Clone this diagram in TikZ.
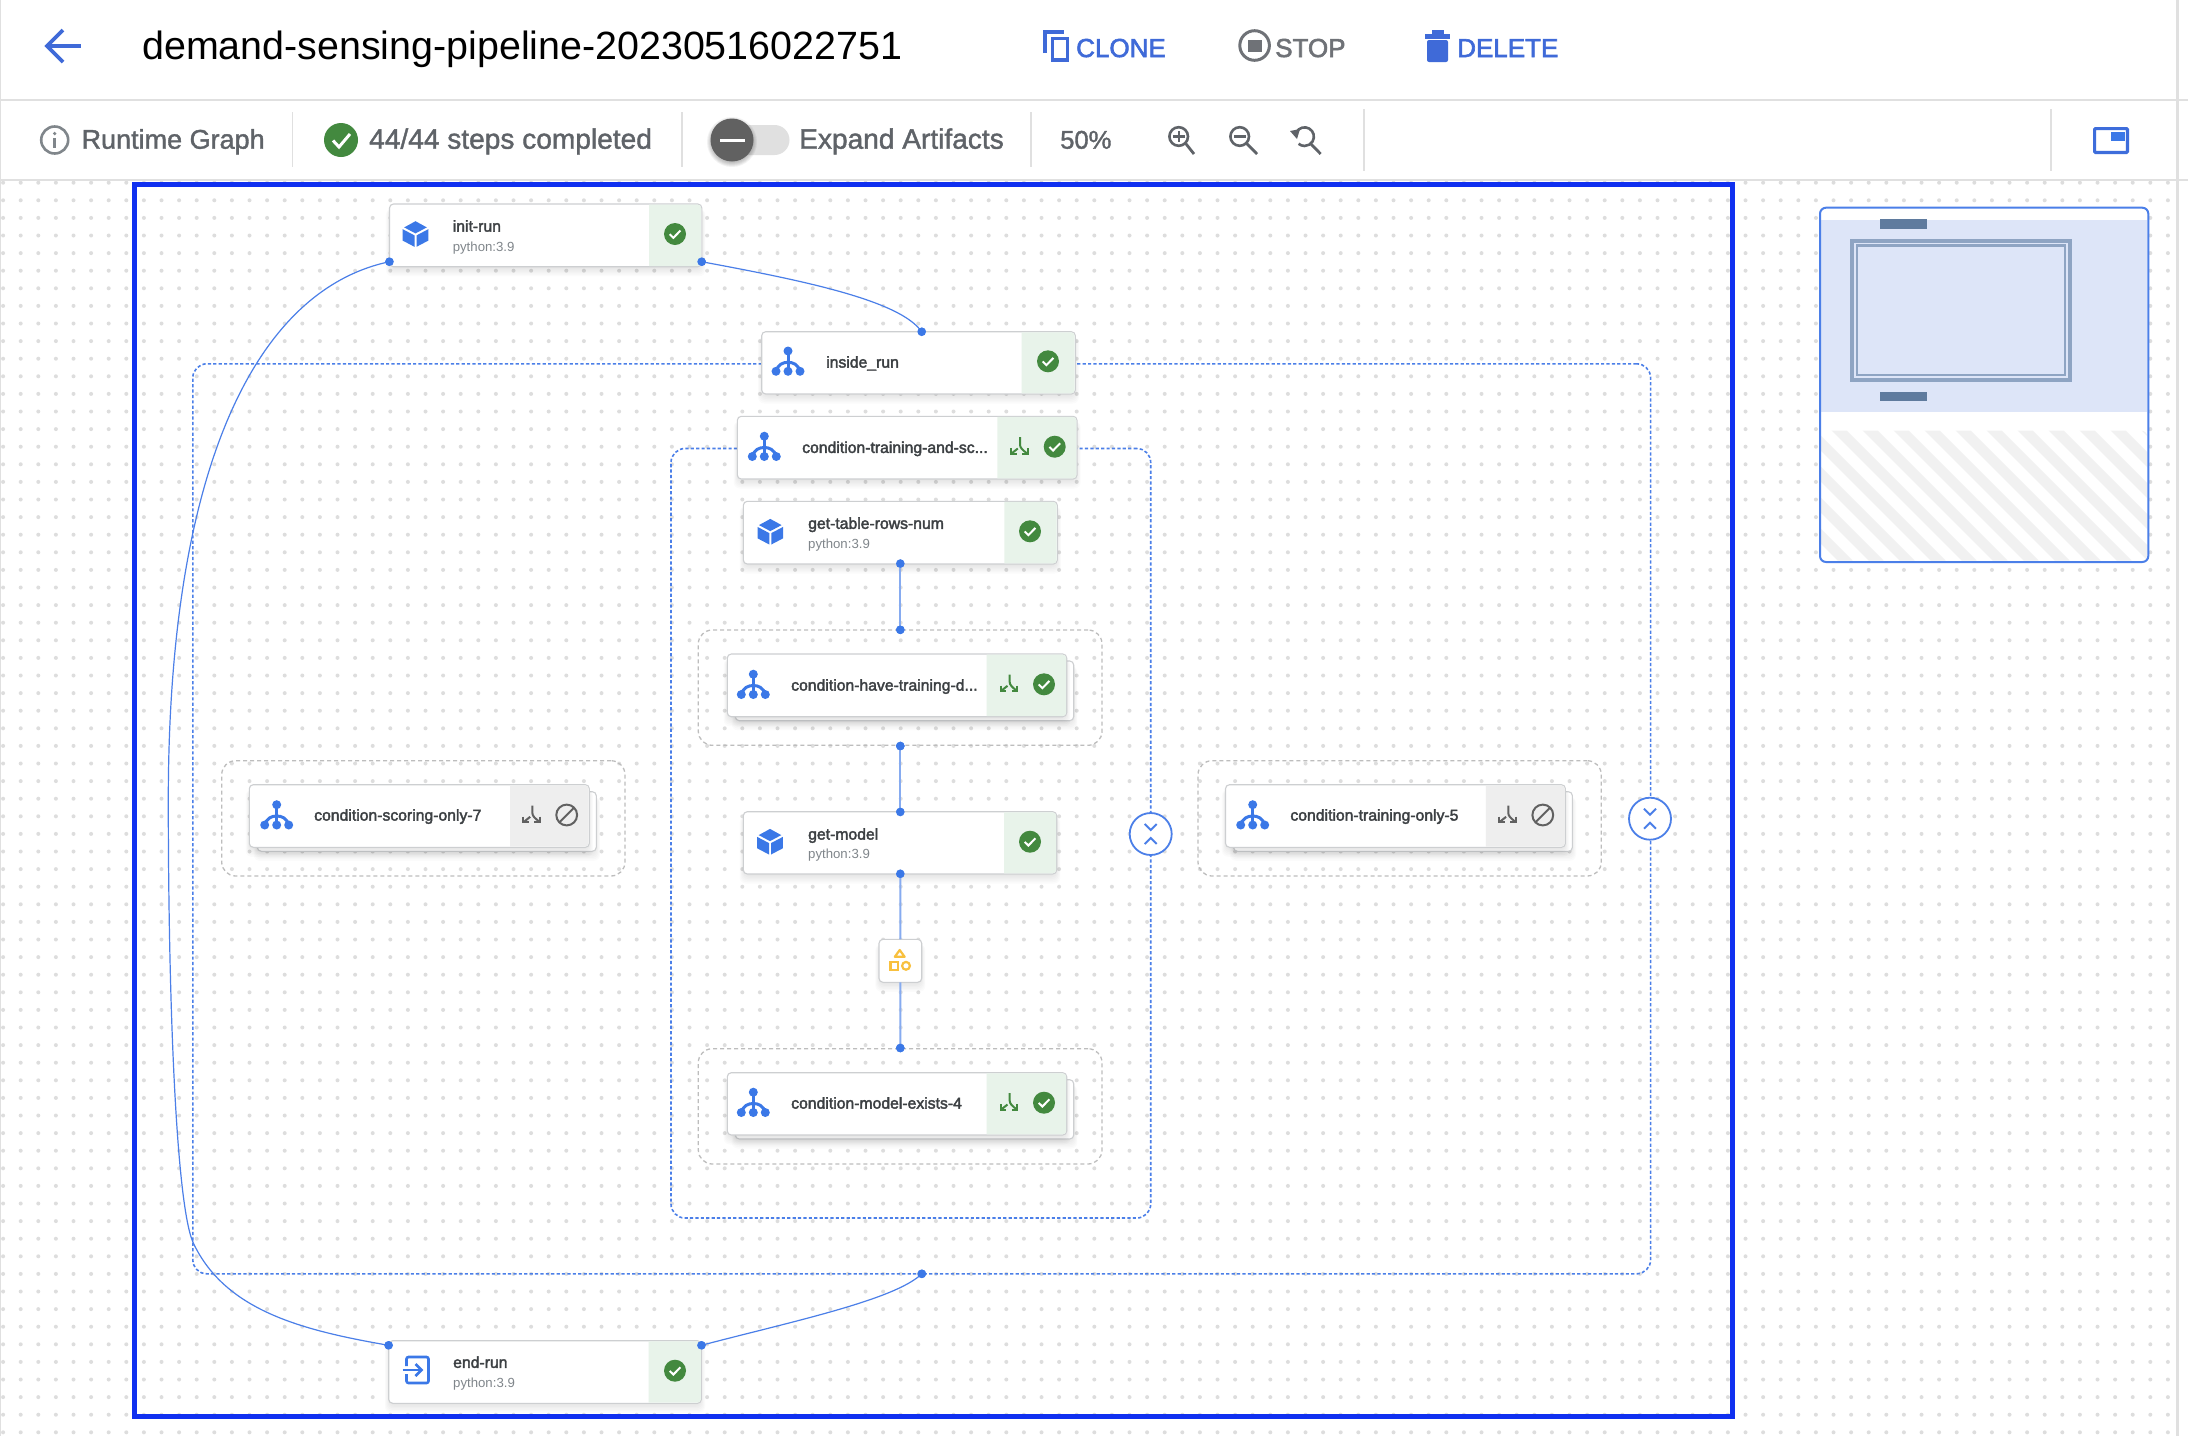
\documentclass[tikz,border=0pt]{standalone}
\usepackage{fontspec}
\setmainfont{Liberation Sans}
\newfontfamily\medfont[FakeBold=2.4]{Liberation Sans}
\newfontfamily\barfont[FakeBold=1.4]{Liberation Sans}
\definecolor{kfblue}{HTML}{3F6AD8}
\definecolor{iconblue}{HTML}{3B78E7}
\definecolor{flowblue}{HTML}{4B7FE8}
\definecolor{lineblue}{HTML}{86ABF0}
\definecolor{framec}{HTML}{1030F0}
\definecolor{dotc}{HTML}{DDDDDD}
\definecolor{rulec}{HTML}{E0E0E0}
\definecolor{okgreen}{HTML}{43893F}
\definecolor{okfill}{HTML}{E8F3EA}
\definecolor{skipfill}{HTML}{EEEEEE}
\definecolor{skipgray}{HTML}{616161}
\definecolor{txtdark}{HTML}{3C4043}
\definecolor{txtgray}{HTML}{5F6368}
\definecolor{txtsub}{HTML}{80868B}
\definecolor{cardedge}{HTML}{CDCFD1}
\definecolor{groupgray}{HTML}{BDBDBD}
\definecolor{yellowc}{HTML}{F8C03E}
\definecolor{minifill}{HTML}{DDE5F8}
\definecolor{minibar}{HTML}{5F7B9E}
\definecolor{miniframe}{HTML}{8EA4C3}
\definecolor{ministripe}{HTML}{F1F1F1}
\tikzset{
  cardbox/.style={draw=cardedge,line width=1.1pt,fill=white,rounded corners=4pt,inner sep=0pt,outer sep=0pt},
  bluegroup/.style={draw=flowblue,line width=1.6pt,dash pattern=on 3.2pt off 2.2pt,rounded corners=14pt,inner sep=0pt,outer sep=0pt},
  graygroup/.style={draw=groupgray,line width=1.3pt,dash pattern=on 4pt off 3pt,rounded corners=14pt,inner sep=0pt,outer sep=0pt},
  portdot/.style={circle,fill=iconblue,draw=none,minimum size=8.6pt,inner sep=0pt,outer sep=0pt},
  curveline/.style={draw=flowblue,line width=1.2pt},
  vertline/.style={draw=lineblue,line width=2pt},
  cardtitle/.style={anchor=base west,inner sep=0pt,yshift=.7pt,text=txtdark,font=\medfont\fontsize{15.75}{18}\selectfont},
  cardsub/.style={anchor=base west,inner sep=0pt,text=txtsub,font=\fontsize{13.2}{15}\selectfont},
  barlabel/.style={anchor=base west,inner sep=0pt,text=txtgray,font=\barfont\fontsize{27}{30}\selectfont},
  barwide/.style={barlabel,font=\barfont\fontsize{28.1}{30}\selectfont},
  actlabel/.style={anchor=base west,inner sep=0pt,yshift=1pt,font=\medfont\fontsize{26}{30}\selectfont},
  sepline/.style={draw=rulec,line width=1.5pt},
  dotrow/.style={draw=dotc,line width=4pt,line cap=round,dash pattern=on 0pt off 17.6pt},
}
% box helper: style, name, x0, y0, x1, y1
\newcommand{\kfbox}[6]{%
  \pgfmathsetmacro{\kfw}{(#5)-(#3)}\pgfmathsetmacro{\kfh}{(#6)-(#4)}%
  \node[#1,minimum width=\kfw pt,minimum height=\kfh pt] (#2) at ({((#3)+(#5))/2},{((#4)+(#6))/2}) {};}
% soft shadow: x0,y0,x1,y1
\newcommand{\kfshadow}[4]{%
  \foreach \k in {0,...,7}{\fill[black,opacity=.016,rounded corners=6pt] (#1-\k*.8+2,#2+5) rectangle (#3+\k*.8-2,#4-1+\k*1.5);}}
% card: name,x0,y0,x1,y1,tintx,tint
\newcommand{\kfcard}[7]{%
  \kfshadow{#2}{#3}{#4}{#5}%
  \kfbox{cardbox}{#1}{#2}{#3}{#4}{#5}%
  \fill[#7] (#6,#3+.6) [rounded corners=3.5pt] -- (#4-.6,#3+.6) -- (#4-.6,#5-.6) [sharp corners] -- (#6,#5-.6) -- cycle;}
% card with a second sheet behind
\newcommand{\kfstack}[7]{%
  \kfshadow{#2+8}{#3+7}{#4+7}{#5+4}%
  \kfbox{cardbox}{#1-back}{#2+8}{#3+7}{#4+7}{#5+4}%
  \kfcard{#1}{#2}{#3}{#4}{#5}{#6}{#7}}
\newcommand{\icoTree}[2]{\begin{scope}[shift={(#1,#2)}]
  \fill[iconblue] (0,-10.3) circle (4.5) (-12,10) circle (4.5) (0,10) circle (4.5) (12,10) circle (4.5);
  \draw[iconblue,line width=3pt] (0,-10) -- (0,10);
  \draw[iconblue,line width=3pt] (-12,10) .. controls (-10,3) and (-5,1) .. (0,1) .. controls (5,1) and (10,3) .. (12,10);
\end{scope}}
\newcommand{\icoCube}[2]{\begin{scope}[shift={(#1,#2)}]
  \fill[iconblue] (0,-12.8) -- (11.3,-6.6) -- (0,-.6) -- (-11.3,-6.6) -- cycle;
  \fill[iconblue] (-12.8,-4.8) -- (-1,1.4) -- (-1,12.8) -- (-12.8,6.6) -- cycle;
  \fill[iconblue] (12.8,-4.8) -- (1,1.4) -- (1,12.8) -- (12.8,6.6) -- cycle;
\end{scope}}
\newcommand{\icoOk}[3][11]{\begin{scope}[shift={(#2,#3)}]
  \fill[okgreen] (0,0) circle (#1);
  \draw[white,line width=2pt] (-5.3,.2) -- (-1.6,3.8) -- (5.4,-3.4);
\end{scope}}
\newcommand{\icoFork}[3]{\begin{scope}[shift={(#1,#2)}]
  \draw[#3,line width=2pt] (.7,-9.5) -- (.7,-2) .. controls (.7,1) and (3,3) .. (8,7);
  \draw[#3,line width=2pt] (8.3,1.5) -- (8.3,7.3) -- (2.6,7.3);
  \draw[#3,line width=2pt] (-1.5,1.8) -- (-8,7);
  \draw[#3,line width=2pt] (-8.3,1.5) -- (-8.3,7.3) -- (-2.6,7.3);
\end{scope}}
\newcommand{\icoSkip}[2]{\begin{scope}[shift={(#1,#2)}]
  \draw[skipgray,line width=2pt] (0,0) circle (10.4);
  \draw[skipgray,line width=2pt] (-7.2,7.2) -- (7.2,-7.2);
\end{scope}}
\newcommand{\icoChev}[2]{\begin{scope}[shift={(#1,#2)}]
  \draw[flowblue,line width=2pt] (-6,-10) -- (0,-4) -- (6,-10);
  \draw[flowblue,line width=2pt] (-6,10) -- (0,4) -- (6,10);
\end{scope}}
\newcommand{\icoLens}[3]{\draw[txtgray,line width=2.6pt] (#1,#2) circle (9.3);
  \draw[txtgray,line width=2.8pt] (#1+7,#2+7) -- (#3,154);}
\begin{document}
\begin{tikzpicture}[x=1pt,y=-1pt]
\useasboundingbox (0,0) rectangle (2188,1436);
\fill[white] (0,0) rectangle (2188,1436);
% dotted canvas
\foreach \j in {10,...,81}{\draw[dotrow] (3.1,{6.7+17.6*\j}) -- (2170,{6.7+17.6*\j});}
% header rules
\draw[rulec,line width=2pt] (0,99.7) -- (2188,99.7);
\draw[rulec,line width=2pt] (0,180) -- (2188,180);
\draw[rulec,line width=1pt] (.5,0) -- (.5,1436);
\draw[rulec,line width=3pt] (2177,0) -- (2177,1436);
% header
\draw[kfblue,line width=3.8pt] (80.5,46) -- (48,46);
\draw[kfblue,line width=3.8pt] (63,30) -- (47,46) -- (63,62);
\node[anchor=base west,inner sep=0pt,text=black,font=\fontsize{39.4}{42}\selectfont] (title) at (142,59.3) {demand-sensing-pipeline-20230516022751};
\draw[kfblue,line width=3.4pt] (1052.5,38.5) rectangle (1067.5,60);
\draw[kfblue,line width=3.4pt] (1045,53) -- (1045,32) -- (1064,32);
\node[actlabel,text=kfblue] (clone) at (1076,58) {CLONE};
\draw[txtgray!90,line width=3pt] (1254.6,45.5) circle (14.8);
\fill[txtgray!90] (1248,40) rectangle (1262.4,52.3);
\node[actlabel,text=txtgray!90] (stop) at (1275,58) {STOP};
\fill[kfblue] (1425,34) rectangle (1450,38.5);
\fill[kfblue] (1432,30) rectangle (1444,34);
\fill[kfblue,rounded corners=2pt] (1427,40) -- (1448,40) -- (1448,62) -- (1427,62) -- cycle;
\node[actlabel,text=kfblue] (delete) at (1457,58) {DELETE};
% toolbar
\draw[txtsub,line width=2.6pt] (54.7,140) circle (13.5);
\fill[txtsub] (54.7,133.5) circle (1.8);
\draw[txtsub,line width=2.8pt] (54.7,138) -- (54.7,148);
\node[barlabel] (runtime) at (81.4,148.7) {Runtime Graph};
\draw[sepline] (292.6,112) -- (292.6,167);
\fill[okgreen] (341,140) circle (17);
\draw[white,line width=3pt] (333,140.5) -- (339,147) -- (350,134);
\node[barwide] (steps) at (369,148.7) {44/44 steps completed};
\draw[sepline] (682,112) -- (682,167);
\fill[rulec,rounded corners=15pt] (730,125) rectangle (789.5,155);
\foreach \k in {0,...,4}{\fill[black,opacity=.05] (732,142) circle ({21+\k});}
\fill[skipgray] (732,140) circle (21.5);
\fill[white] (719.5,138.5) rectangle (745,142);
\node[barwide] (expand) at (799,148.7) {Expand Artifacts};
\draw[sepline] (1031,112) -- (1031,167);
\node[barlabel,font=\barfont\fontsize{25.6}{30}\selectfont] (zoompct) at (1060,148.7) {50\%};
\icoLens{1178.7}{136.5}{1194}
\draw[txtgray,line width=2.2pt] (1178.7,131) -- (1178.7,142) (1173,136.5) -- (1184.5,136.5);
\icoLens{1239.7}{136.5}{1257}
\draw[txtgray,line width=2.2pt] (1234,136.5) -- (1245.5,136.5);
\draw[txtgray,line width=2.6pt] (1296.5,132) arc (210:490:9.3);
\fill[txtgray] (1290,131) -- (1300,129) -- (1297,139) -- cycle;
\draw[txtgray,line width=2.8pt] (1311,144) -- (1320.7,154);
\draw[sepline] (1364,109) -- (1364,171);
\draw[sepline] (2051,109) -- (2051,171);
\draw[kfblue!80!iconblue,line width=3.2pt,rounded corners=1pt] (2094.6,128.6) rectangle (2127.4,152.4);
\fill[iconblue] (2111,132) rectangle (2125,141);
% selection frame
\draw[framec,line width=5pt] (134,184.5) rectangle (1732.5,1416.5);
% dashed groups
\kfbox{bluegroup}{gOuter}{192.8}{363.8}{1650.6}{1273.8}
\kfbox{bluegroup}{gInner}{671}{448.5}{1150.7}{1218}
\kfbox{graygroup}{gHave}{698.3}{630}{1102}{745.3}
\kfbox{graygroup}{gExists}{698.3}{1048.7}{1102}{1164}
\kfbox{graygroup}{gScoring}{221.7}{760.7}{625}{876}
\kfbox{graygroup}{gTraining}{1198}{760.7}{1601.3}{876}
% ports
\node[portdot] (pInitL) at (389.5,261.7) {};
\node[portdot] (pInitR) at (701.6,261.7) {};
\node[portdot] (pInside) at (921.7,331.8) {};
\node[portdot] (pTable) at (900.3,563.5) {};
\node[portdot] (pHaveT) at (900.3,629.8) {};
\node[portdot] (pHaveB) at (900.3,746) {};
\node[portdot] (pModelT) at (900.3,812) {};
\node[portdot] (pModelB) at (900.3,873.7) {};
\node[portdot] (pExists) at (900.3,1048) {};
\node[portdot] (pOuterB) at (921.8,1273.8) {};
\node[portdot] (pEndL) at (388.7,1345.3) {};
\node[portdot] (pEndR) at (701.4,1345.3) {};
\coordinate (mid) at (168.3,800);
% cards
\kfcard{init}{389.5}{204}{701.8}{266.7}{649}{okfill}
\kfcard{inside}{761.7}{331.7}{1075.3}{394}{1021.7}{okfill}
\kfcard{condTS}{737.3}{416.3}{1077}{479}{997.3}{okfill}
\kfcard{table}{743.3}{501.3}{1057.3}{564}{1004.3}{okfill}
\kfstack{have}{727.3}{654}{1066.7}{716.7}{986.7}{okfill}
\kfcard{model}{743.3}{811.7}{1056.7}{874}{1004}{okfill}
\kfstack{exists}{727.3}{1072.7}{1066.7}{1135}{986.7}{okfill}
\kfstack{scoring}{249.3}{784.7}{589.3}{847.3}{510}{skipfill}
\kfstack{training}{1225.5}{784.7}{1565.4}{847.3}{1485.8}{skipfill}
\kfcard{endrun}{388.7}{1340.7}{701.4}{1403.3}{648.6}{okfill}
% artifact node
\kfshadow{879}{939.3}{921.7}{982.3}
\kfbox{cardbox}{artifact}{879}{939.3}{921.7}{982.3}
\draw[yellowc,line width=2.2pt,line join=round] (899.7,950) -- (904.6,956.8) -- (894.8,956.8) -- cycle;
\draw[yellowc,line width=2.2pt] (890.5,962) rectangle (898,970);
\draw[yellowc,line width=2.2pt] (906,965.8) circle (3.9);
% connectors
\draw[vertline] (pTable.center) -- (pHaveT.center);
\draw[vertline] (pHaveB.center) -- (pModelT.center);
\draw[vertline] (pModelB.center) -- (artifact.north);
\draw[vertline] (artifact.south) -- (pExists.center);
\draw[curveline] (pInitR.center) .. controls (800,280) and (900,300) .. (pInside.center);
\draw[curveline] (pEndR.center) .. controls (790,1322) and (895,1300) .. (pOuterB.center);
\draw[curveline] (pInitL.center) .. controls (255,290) and (168.3,470) .. (mid);
\draw[curveline] (mid) .. controls (168.3,1000) and (176,1205) .. (193.3,1243) .. controls (225,1310) and (300,1330) .. (pEndL.center);
% redraw ports on top
\foreach \p/\q in {389.5/261.7,701.6/261.7,921.7/331.8,900.3/563.5,900.3/629.8,900.3/746,900.3/812,900.3/873.7,900.3/1048,921.8/1273.8,388.7/1345.3,701.4/1345.3}{\fill[iconblue] (\p,\q) circle (4.3);}
% card contents
\icoCube{415.5}{234}
\node[cardtitle] (initT) at (452.6,232.3) {init-run};
\node[cardsub] (initS) at (452.6,251) {python:3.9};
\icoOk{675}{234}
\icoTree{788}{361.3}
\node[cardtitle] (insideT) at (826,368.3) {inside\_run};
\icoOk{1048}{361.3}
\icoTree{764.3}{446.5}
\node[cardtitle] (condTST) at (802,453.6) {condition-training-and-sc...};
\icoFork{1019.3}{446.7}{okgreen}
\icoOk{1054.7}{446.7}
\icoCube{770.3}{531.7}
\node[cardtitle] (tableT) at (808,529.5) {get-table-rows-num};
\node[cardsub] (tableS) at (808,548.7) {python:3.9};
\icoOk{1030}{531.3}
\icoTree{753.3}{684.5}
\node[cardtitle] (haveT) at (791,691.3) {condition-have-training-d...};
\icoFork{1009}{684}{okgreen}
\icoOk{1044}{684.3}
\icoCube{770}{841.7}
\node[cardtitle] (modelT) at (808,840.3) {get-model};
\node[cardsub] (modelS) at (808,858) {python:3.9};
\icoOk{1030}{841.7}
\icoTree{753.3}{1102.5}
\node[cardtitle] (existsT) at (791,1109.3) {condition-model-exists-4};
\icoFork{1009}{1102.7}{okgreen}
\icoOk{1044}{1102.7}
\icoTree{276.7}{815}
\node[cardtitle] (scoringT) at (314,821.3) {condition-scoring-only-7};
\icoFork{531.7}{815}{skipgray}
\icoSkip{566.7}{815}
\icoTree{1252.7}{815}
\node[cardtitle] (trainingT) at (1290.2,821.3) {condition-training-only-5};
\icoFork{1507.6}{815}{skipgray}
\icoSkip{1542.8}{815}
\begin{scope}[shift={(415.5,1370)}]
  \draw[iconblue,line width=2.6pt,rounded corners=2pt] (-9,-4) -- (-9,-13) -- (13,-13) -- (13,13) -- (-9,13) -- (-9,4);
  \draw[iconblue,line width=2.6pt] (-13,0) -- (6,0);
  \draw[iconblue,line width=2.6pt] (0,-6) -- (6,0) -- (0,6);
\end{scope}
\node[cardtitle] (endT) at (453,1368.5) {end-run};
\node[cardsub] (endS) at (453,1387) {python:3.9};
\icoOk{675}{1370.7}
% expanders
\node[circle,draw=flowblue,line width=1.8pt,fill=white,minimum size=42pt,inner sep=0pt] (expA) at (1150.7,834) {};
\icoChev{1150.7}{834}
\node[circle,draw=flowblue,line width=1.8pt,fill=white,minimum size=42pt,inner sep=0pt] (expB) at (1650,818.7) {};
\icoChev{1650}{818.7}
% minimap
\fill[white,rounded corners=6pt] (1820,207.7) rectangle (2148.3,562);
\fill[minifill] (1821,220) rectangle (2147.3,411.7);
\begin{scope}
  \clip[rounded corners=6pt] (1821,430.7) -- (2147.3,430.7) -- (2147.3,561) -- (1821,561) -- cycle;
  \foreach \i in {-5,...,10}{
    \fill[ministripe] ({1831.7+31*\i},430.7) -- ({1846.7+31*\i},430.7) -- ({1976.7+31*\i},560.7) -- ({1961.7+31*\i},560.7) -- cycle;}
\end{scope}
\fill[minibar] (1880,219.3) rectangle (1927.3,228.7);
\fill[minibar] (1880,391.7) rectangle (1927.3,401);
\draw[miniframe,line width=4pt] (1852,241) rectangle (2069.7,379.7);
\draw[miniframe,line width=2.6pt] (1857,245.5) rectangle (2065,375);
\draw[flowblue,line width=2pt,rounded corners=6pt] (1820,207.7) rectangle (2148.3,562);
\end{tikzpicture}
\end{document}
